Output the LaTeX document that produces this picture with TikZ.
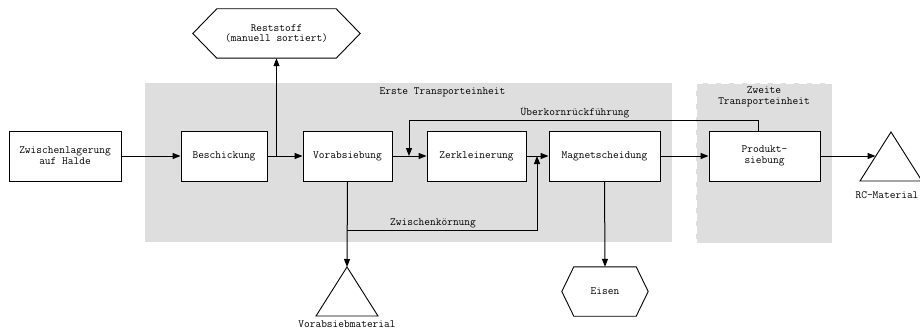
\documentclass[tikz,border=0pt]{standalone}
\usetikzlibrary{arrows.meta,calc}
\definecolor{unitgray}{RGB}{222,222,222}
\begin{document}
\begin{tikzpicture}[x=1pt,y=-1pt,
  font=\ttfamily\fontsize{11.1}{10.8}\selectfont,
  procbox/.style={draw,line width=0.9pt,fill=white,align=center,inner sep=0pt},
  unitbg/.style={fill=unitgray,draw=none},
  flow/.style={line width=1pt,-{Triangle[length=8pt,width=6pt]}},
  outline/.style={draw,line width=0.9pt,fill=white},
  lbl/.style={inner sep=0pt,align=center}]
\useasboundingbox (0,0) rectangle (920,329);

% transport units
\fill[unitbg] (145,83) rectangle (672,242);
\fill[unitbg] (696,83) rectangle (832,243);
\draw[white,line width=0.6pt,dash pattern=on 8pt off 5pt] (696,83) rectangle (832,243);
\node[lbl] (unit1) at (442.5,92) {Erste Transporteinheit};
\node[lbl] (unit2) at (764,97) {Zweite\\Transporteinheit};

% process steps
\node[procbox,minimum width=112,minimum height=50] (zw) at (65,156) {Zwischenlagerung\\auf Halde};
\node[procbox,minimum width=86,minimum height=50] (besch) at (224,156) {Beschickung};
\node[procbox,minimum width=89,minimum height=50] (vor) at (347.5,156) {Vorabsiebung};
\node[procbox,minimum width=99,minimum height=50] (zerk) at (476.5,156) {Zerkleinerung};
\node[procbox,minimum width=111,minimum height=50] (mag) at (604.5,156) {Magnetscheidung};
\node[procbox,minimum width=111,minimum height=50] (prod) at (764.5,156) {Produkt-\\siebung};

% hexagonal outputs
\node[lbl,minimum width=167,minimum height=49] (rest) at (276.5,33.5) {};
\draw[outline] (rest.west) -- ([xshift=24]rest.north west) -- ([xshift=-24]rest.north east)
  -- (rest.east) -- ([xshift=-24]rest.south east) -- ([xshift=24]rest.south west) -- cycle;
\node[lbl] (resttext) at (rest) {Reststoff\\(manuell sortiert)};

\node[lbl,minimum width=86,minimum height=49] (eisen) at (605,291.5) {};
\draw[outline] (eisen.west) -- ([xshift=12]eisen.north west) -- ([xshift=-12]eisen.north east)
  -- (eisen.east) -- ([xshift=-12]eisen.south east) -- ([xshift=12]eisen.south west) -- cycle;
\node[lbl] (eisentext) at (eisen) {Eisen};

% triangular stockpiles
\coordinate (vortop) at (347,267);
\draw[outline] (vortop) -- (378,316) -- (316,316) -- cycle;
\node[lbl] (vorlbl) at (347,324) {Vorabsiebmaterial};

\coordinate (rctop) at (891,132);
\draw[outline] (rctop) -- (922,181) -- (860,181) -- cycle;
\coordinate (rcin) at (875.5,156);
\node[lbl] (rclbl) at (887,195) {RC-Material};

% main flow
\draw[flow] (zw.east) -- (besch.west);
\draw[flow] (besch.east) -- (vor.west);
\draw[flow] (rest.south |- besch.east) -- (rest.south);
\draw[flow] (vor.east) -- (zerk.west);
\draw[flow] (zerk.east) -- (mag.west);
\draw[flow] (mag.east) -- (prod.west);
\draw[flow] (prod.east) -- (rcin);
\draw[flow] (mag.south) -- (eisen.north);
\draw[flow] (vor.south) -- (vortop);

% oversize return
\coordinate (fbstart) at (758,131);
\coordinate (fbcorner) at (409,120);
\coordinate (fbend) at (409,156);
\draw[flow] (fbstart) |- (fbcorner) -- (fbend);
\node[lbl] (fblbl) at (575,113) {Überkornrückführung};

% intermediate grain bypass
\coordinate (zkcorner) at (347,230);
\coordinate (zkend) at (537,156);
\draw[flow] (zkcorner) -| (zkend);
\node[lbl] (zklbl) at (433,223) {Zwischenkörnung};
\end{tikzpicture}
\end{document}
